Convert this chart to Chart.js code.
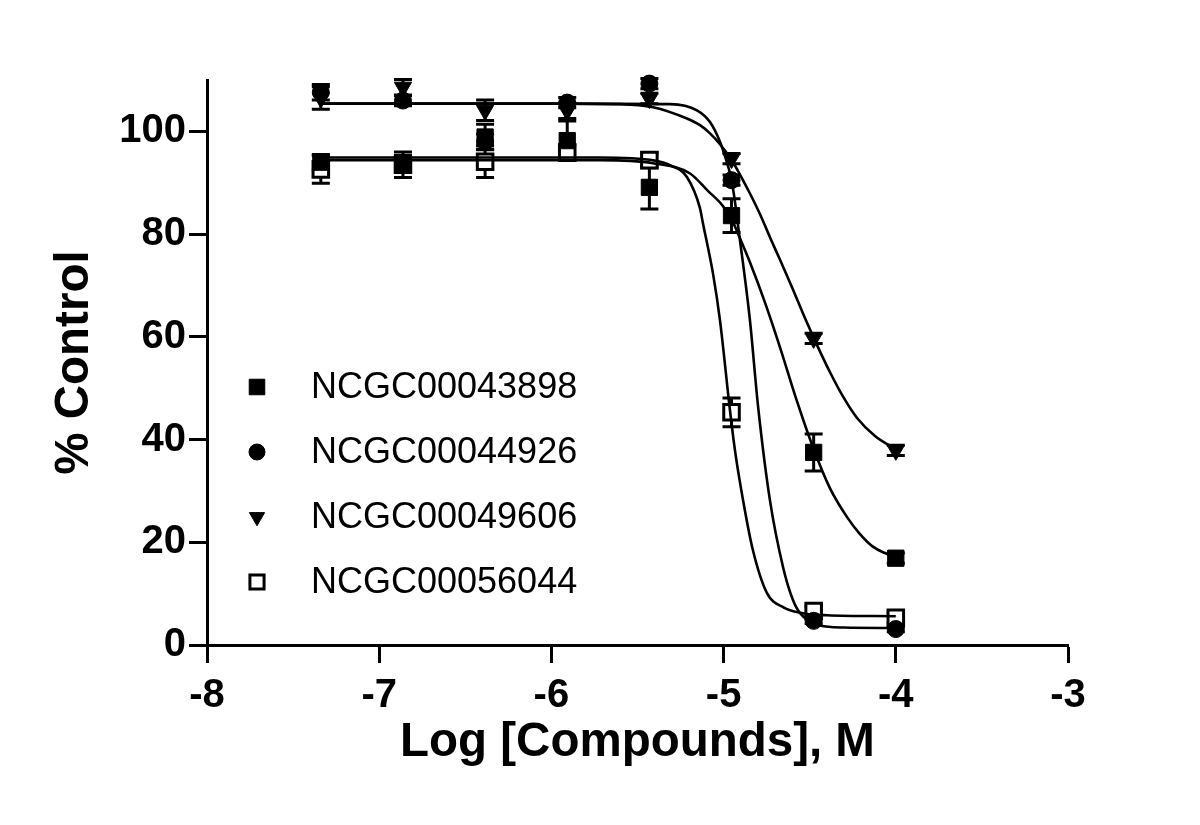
<!DOCTYPE html>
<html><head><meta charset="utf-8">
<script src="https://cdn.jsdelivr.net/npm/chart.js@4.4.1/dist/chart.umd.min.js"></script>
<style>html,body{margin:0;padding:0;background:#fff;}canvas{display:block;}</style>
</head><body>
<canvas id="c" width="1200" height="825"></canvas>
<script>
// ---------- data ----------
const logConc = [-7.339, -6.862, -6.385, -5.908, -5.431, -4.954, -4.477, -4.0];
const compoundNames = ['NCGC00043898', 'NCGC00044926', 'NCGC00049606', 'NCGC00056044'];

const meanA = [94.0, 93.8, 98.9, 98.2, 89.1, 83.6, 37.5, 16.9];
const errA  = [1.5, 1.5, 2.5, 3.8, 4.2, 3.3, 3.6, 1.0];
const meanB = [107.6, 106.0, 98.0, 105.6, 109.3, 90.5, 4.7, 3.1];
const errB  = [1.5, 1.0, 1.5, 1.0, 1.0, 1.0, 0.5, 0.5];
const meanC = [106.5, 108.6, 104.1, 104.0, 106.4, 94.7, 59.7, 37.9];
const errC  = [2.2, 1.5, 2.0, 1.5, 1.0, 1.0, 1.0, 1.0];
const meanD = [92.6, 93.5, 94.1, 95.9, 94.4, 45.3, 6.6, 5.3];
const errD  = [2.7, 2.5, 3.1, 1.5, 1.5, 2.8, 1.0, 1.0];

// fitted curves
const curveAx = [-7.339, -5.718, -5.410, -5.195, -5.094, -5.007, -4.957, -4.905, -4.847, -4.760, -4.671, -4.585, -4.481, -4.382, -4.283, -4.208, -4.131, -4.063, -4.0];
const curveAy = [94.4, 94.4, 93.8, 91.8, 88.5, 85.6, 83.1, 79.2, 74.5, 66.7, 57.8, 48.6, 38.5, 30.5, 24.9, 21.6, 19.1, 17.9, 17.1];
const curveBx = [-7.339, -5.950, -5.311, -5.155, -5.079, -5.021, -5.003, -4.951, -4.905, -4.847, -4.800, -4.731, -4.655, -4.600, -4.556, -4.440, -4.300, -4.0];
const curveBy = [105.4, 105.4, 105.3, 104.1, 101.8, 98.0, 96.3, 90.0, 78.8, 63.2, 46.5, 28.2, 15.2, 9.0, 6.2, 3.8, 3.4, 3.3];
const curveCx = [-7.339, -5.950, -5.602, -5.410, -5.213, -5.137, -5.079, -5.021, -4.963, -4.905, -4.847, -4.789, -4.731, -4.671, -4.601, -4.527, -4.452, -4.382, -4.307, -4.225, -4.121, -4.0];
const curveCy = [105.4, 105.4, 105.3, 104.7, 102.5, 101.2, 99.6, 97.5, 94.9, 91.6, 87.9, 83.9, 79.4, 74.9, 69.5, 63.6, 58.0, 53.1, 48.4, 44.2, 40.7, 38.1];
const curveDx = [-7.339, -5.718, -5.400, -5.311, -5.213, -5.137, -5.120, -5.062, -5.021, -4.963, -4.934, -4.887, -4.830, -4.748, -4.650, -4.539, -4.400, -4.0];
const curveDy = [94.9, 94.9, 94.3, 93.4, 91.1, 85.0, 82.1, 72.4, 63.2, 45.7, 37.9, 28.2, 18.5, 10.1, 7.3, 6.2, 5.8, 5.6];

const xTicks = [-8, -7, -6, -5, -4, -3];
const yTicks = [0, 20, 40, 60, 80, 100];
const xTitle = 'Log [Compounds], M';
const yTitle = '% Control';

// ---------- build datasets ----------
const FAMILY = "'Liberation Sans', Arial, Helvetica, sans-serif";
Chart.defaults.font.family = FAMILY;
Chart.defaults.color = '#000';

const pts = (xs, ys) => xs.map((x, i) => ({x: x, y: ys[i]}));

const markerStyles = [
  {pointStyle: 'rect', pointRadius: 11.5, pointRotation: 0, bg: '#000', bw: 1, legendR: 11},
  {pointStyle: 'circle', pointRadius: 8.5, pointRotation: 0, bg: '#000', bw: 1, legendR: 8},
  {pointStyle: 'triangle', pointRadius: 10, pointRotation: 180, bg: '#000', bw: 1, legendR: 8.8},
  {pointStyle: 'rect', pointRadius: 11, pointRotation: 0, bg: '#fff', bw: 3, legendR: 10}
];
const means = [meanA, meanB, meanC, meanD];
const errs = [errA, errB, errC, errD];
const curvesX = [curveAx, curveBx, curveCx, curveDx];
const curvesY = [curveAy, curveBy, curveCy, curveDy];

const datasets = [];
compoundNames.forEach((name, k) => {
  const s = markerStyles[k];
  datasets.push({
    label: name,
    data: pts(logConc, means[k]),
    errors: errs[k],
    showLine: false,
    pointStyle: s.pointStyle,
    pointRadius: s.pointRadius,
    pointRotation: s.pointRotation,
    pointBackgroundColor: s.bg,
    pointBorderColor: '#000',
    pointBorderWidth: s.bw,
    pointHoverRadius: s.pointRadius,
    legendR: s.legendR,
    isMarker: true,
    clip: false,
    order: 1
  });
});
compoundNames.forEach((name, k) => {
  datasets.push({
    label: name + ' fit',
    data: pts(curvesX[k], curvesY[k]),
    showLine: true,
    borderColor: '#000',
    borderWidth: 2.6,
    pointRadius: 0,
    pointHoverRadius: 0,
    cubicInterpolationMode: 'monotone',
    fill: false,
    order: 0
  });
});

// ---------- plugins ----------
const errorBars = {
  id: 'errorBars',
  beforeDatasetsDraw(chart) {
    const ctx = chart.ctx, xs = chart.scales.x, ys = chart.scales.y;
    ctx.save();
    ctx.strokeStyle = '#000';
    ctx.lineWidth = 3;
    chart.data.datasets.forEach(ds => {
      if (!ds.errors) return;
      ds.data.forEach((p, i) => {
        const e = ds.errors[i];
        const px = xs.getPixelForValue(p.x);
        const yTop = ys.getPixelForValue(p.y + e);
        const yBot = ys.getPixelForValue(p.y - e);
        ctx.beginPath();
        ctx.moveTo(px, yTop); ctx.lineTo(px, yBot);
        ctx.moveTo(px - 9, yTop); ctx.lineTo(px + 9, yTop);
        ctx.moveTo(px - 9, yBot); ctx.lineTo(px + 9, yBot);
        ctx.stroke();
      });
    });
    ctx.restore();
  }
};

const insideLegend = {
  id: 'insideLegend',
  afterDraw(chart) {
    const ctx = chart.ctx;
    const markers = chart.data.datasets.filter(d => d.isMarker);
    ctx.save();
    ctx.font = '36px ' + FAMILY;
    ctx.textBaseline = 'middle';
    ctx.textAlign = 'left';
    markers.forEach((ds, i) => {
      const cy = 387 + i * 65;
      ctx.fillStyle = ds.pointBackgroundColor;
      ctx.strokeStyle = '#000';
      ctx.lineWidth = ds.pointBorderWidth;
      Chart.helpers.drawPoint(ctx, {pointStyle: ds.pointStyle, radius: ds.legendR, rotation: ds.pointRotation, borderWidth: ds.pointBorderWidth}, 257, cy);
      ctx.fillStyle = '#000';
      ctx.fillText(ds.label, 311, cy + 1);
    });
    ctx.restore();
  }
};

new Chart(document.getElementById('c'), {
  type: 'scatter',
  data: {datasets: datasets},
  plugins: [errorBars, insideLegend],
  options: {
    responsive: false,
    animation: false,
    devicePixelRatio: 1,
    layout: {padding: {left: 0, top: 80, right: 132, bottom: 0}},
    plugins: {legend: {display: false}, tooltip: {enabled: false}},
    events: [],
    scales: {
      x: {
        type: 'linear',
        min: xTicks[0], max: xTicks[xTicks.length - 1],
        afterBuildTicks: s => { s.ticks = xTicks.map(v => ({value: v})); },
        afterFit: s => { s.height = 180; },
        ticks: {font: {size: 40, weight: 'bold'}, padding: 9, color: '#000', callback: v => String(v)},
        grid: {drawOnChartArea: false, drawTicks: true, tickLength: 18, tickWidth: 3, tickColor: '#000', color: '#000'},
        border: {display: true, color: '#000', width: 3},
        title: {display: true, text: xTitle, font: {size: 47.5, weight: 'bold'}, color: '#000', padding: {top: 0, bottom: 54}}
      },
      y: {
        type: 'linear',
        min: 0, max: 110,
        afterBuildTicks: s => { s.ticks = yTicks.map(v => ({value: v})); },
        afterFit: s => { s.width = 207; },
        ticks: {font: {size: 40, weight: 'bold'}, padding: 3, color: '#000', callback: v => String(v)},
        grid: {drawOnChartArea: false, drawTicks: true, tickLength: 18, tickWidth: 3, tickColor: '#000', color: '#000'},
        border: {display: true, color: '#000', width: 3},
        title: {display: true, text: yTitle, font: {size: 47.5, weight: 'bold'}, color: '#000', padding: {top: 46, bottom: 0}}
      }
    }
  }
});
</script>
</body></html>
